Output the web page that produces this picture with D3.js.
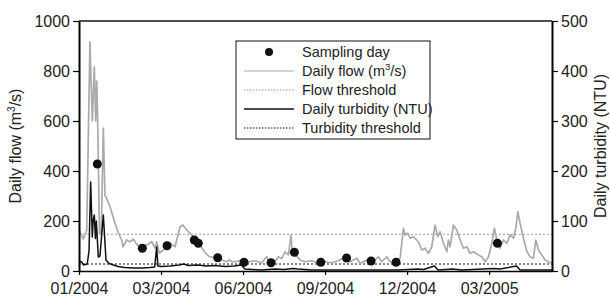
<!DOCTYPE html>
<html>
<head>
<meta charset="utf-8">
<script src="https://cdn.jsdelivr.net/npm/d3@7"></script>
<style>
  body { margin: 0; background: #fff; }
  text { font-family: "Liberation Sans", Arial, Helvetica, sans-serif; fill: #222; }
</style>
</head>
<body>
<div id="chart-area"></div>
<script>
// data: day = days since 01/01/2004
const flowDays = [0, 4.7, 8.5, 12, 14.6, 16.8, 18.3, 19.5, 20.5, 22.5, 24.5, 26.7, 28.5, 29.6, 34, 39.5, 42.7, 46.8, 48.3, 52.3, 56, 59.6, 63.3, 67, 74.3, 79.9, 83.5, 85.3, 88.1, 92.5, 99.9, 105.4, 110.9, 113.9, 118.3, 123.8, 128, 134, 137.6, 143.1, 147, 156.4, 161.9, 165, 168, 171.2, 178.6, 185.8, 193.2, 200.5, 206, 207.8, 215.1, 218.8, 222.5, 226.1, 229.7, 232.7, 234.1, 238.9, 242.6, 248, 255.4, 262.6, 270, 277.4, 284.6, 291.9, 297.4, 304.8, 308.4, 315.8, 323, 328.5, 332.2, 337.7, 341.3, 348.7, 352.3, 356, 357.8, 360.8, 363.3, 366.9, 372.4, 376.2, 379.8, 383.4, 387.1, 390.7, 393.7, 396.2, 399.9, 403.6, 405.3, 407.2, 410.8, 414.5, 418.2, 421.8, 425.5, 429.1, 432.8, 438.3, 442, 445.6, 449.3, 453, 455.8, 458.4, 462, 465.7, 469.4, 473, 476.7, 479.3, 481.5, 484, 487.7, 491.4, 495, 498.6, 501.2, 504.1, 507.8, 511.4, 515.1, 518.8]
const flowValues = [164, 128, 164, 917, 600, 817, 600, 760, 600, 150, 160, 572, 300, 297, 257, 192, 157, 124, 97, 124, 117, 127, 107, 97, 104, 117, 91, 117, 71, 84, 111, 97, 177, 184, 164, 144, 130, 97, 77, 57, 55, 44, 37, 44, 37, 37, 44, 37, 41, 33, 57, 40, 37, 57, 50, 77, 64, 144, 64, 60, 44, 37, 41, 31, 37, 33, 41, 57, 37, 51, 31, 44, 37, 57, 37, 57, 37, 37, 51, 171, 144, 151, 131, 137, 117, 84, 91, 71, 97, 184, 137, 157, 111, 77, 124, 97, 184, 164, 124, 91, 97, 71, 77, 64, 57, 37, 57, 111, 171, 124, 91, 124, 111, 144, 131, 171, 237, 191, 131, 77, 57, 51, 124, 84, 64, 44, 37, 31]

const turbDays = [0, 3, 5, 9, 11, 12.8, 14.6, 15.5, 16.8, 18, 19, 21.2, 23, 26.7, 29.6, 33, 36, 43, 50, 60, 70, 78, 83, 85.3, 86.5, 90, 100, 110, 115, 120, 130, 140, 150, 160, 170, 178, 182, 190, 200, 215, 225, 235, 240, 255, 280, 300, 330, 350, 372, 378, 390, 394, 410, 420, 455, 462, 480, 484, 519]
const turbValues = [20, 18, 12, 14, 40, 178, 68, 100, 112, 65, 100, 28, 30, 112, 22, 15, 13, 9, 7, 6, 6, 7, 8, 48, 10, 9, 10, 12, 14, 11, 12, 10, 11, 9, 10, 12, 4, 3, 2, 4, 3, 5, 4, 2, 2, 2, 2, 2, 4, 3, 10, 2, 4, 2, 5, 4, 10, 2, 2]

const sampleDays = [20.1, 69.5, 96.6, 126.5, 130.9, 152.2, 181.1, 210.7, 236.3, 265.3, 293.6, 320.5, 347.9, 459.1]
const sampleFlow = [428, 91, 101, 124, 111, 53, 35, 33, 75, 35, 52, 40, 35, 111]

const flowThreshold = 147
const turbThreshold = 14

const xTickDays = [0, 90, 180, 270, 360, 450]
const xTickLabels = ["01/2004", "03/2004", "06/2004", "09/2004", "12/2004", "03/2005"]
const flowTicks = [0, 200, 400, 600, 800, 1000]
const turbTicks = [0, 100, 200, 300, 400, 500]

const MARGIN = { LEFT: 79, RIGHT: 58, TOP: 21, BOTTOM: 32 }
const WIDTH = 610 - MARGIN.LEFT - MARGIN.RIGHT
const HEIGHT = 303 - MARGIN.TOP - MARGIN.BOTTOM
const FONT = "16px"
const LEGEND_FONT = "14.5px"

const svg = d3.select("#chart-area").append("svg")
  .attr("width", WIDTH + MARGIN.LEFT + MARGIN.RIGHT)
  .attr("height", HEIGHT + MARGIN.TOP + MARGIN.BOTTOM)

const g = svg.append("g")
  .attr("transform", `translate(${MARGIN.LEFT}, ${MARGIN.TOP})`)

const x = d3.scaleLinear().domain([0, 519]).range([0, WIDTH])
const yFlow = d3.scaleLinear().domain([0, 1000]).range([HEIGHT, 0])
const yTurb = d3.scaleLinear().domain([0, 500]).range([HEIGHT, 0])

// threshold lines
g.append("line")
  .attr("x1", 0).attr("x2", WIDTH)
  .attr("y1", yFlow(flowThreshold)).attr("y2", yFlow(flowThreshold))
  .attr("stroke", "#999").attr("stroke-width", 1).attr("stroke-dasharray", "2,2")

g.append("line")
  .attr("x1", 0).attr("x2", WIDTH)
  .attr("y1", yTurb(turbThreshold)).attr("y2", yTurb(turbThreshold))
  .attr("stroke", "#111").attr("stroke-width", 1).attr("stroke-dasharray", "2,2")

// daily flow
const flowLine = d3.line()
  .x((d, i) => x(flowDays[i]))
  .y(d => yFlow(d))
g.append("path")
  .attr("d", flowLine(flowValues))
  .attr("fill", "none").attr("stroke", "#aaa").attr("stroke-width", 1.7)
  .attr("stroke-linejoin", "round")

// daily turbidity
const turbLine = d3.line()
  .x((d, i) => x(turbDays[i]))
  .y(d => yTurb(d))
g.append("path")
  .attr("d", turbLine(turbValues))
  .attr("fill", "none").attr("stroke", "#111").attr("stroke-width", 1.5)
  .attr("stroke-linejoin", "round")

// sampling days
g.selectAll("circle.sample")
  .data(sampleDays)
  .enter().append("circle")
  .attr("class", "sample")
  .attr("cx", d => x(d))
  .attr("cy", (d, i) => yFlow(sampleFlow[i]))
  .attr("r", 4.5)
  .attr("fill", "#111")

// axes
const xAxisCall = d3.axisBottom(x)
  .tickValues(xTickDays)
  .tickFormat((d, i) => xTickLabels[i])
  .tickSize(4).tickSizeOuter(0).tickPadding(8)
const xAxisGroup = g.append("g")
  .attr("transform", `translate(0, ${HEIGHT})`)
  .call(xAxisCall)

const yAxisCall = d3.axisLeft(yFlow).tickValues(flowTicks).tickFormat(d3.format("d"))
  .tickSize(6).tickSizeOuter(0).tickPadding(3)
const yAxisGroup = g.append("g").call(yAxisCall)

const y2AxisCall = d3.axisRight(yTurb).tickValues(turbTicks).tickFormat(d3.format("d"))
  .tickSize(6).tickSizeOuter(0).tickPadding(3)
const y2AxisGroup = g.append("g")
  .attr("transform", `translate(${WIDTH}, 0)`)
  .call(y2AxisCall)

g.selectAll(".tick text").attr("font-size", FONT).attr("fill", "#222")
xAxisGroup.select(".domain").attr("stroke-width", 1.5)
yAxisGroup.select(".domain").attr("stroke-width", 2)
y2AxisGroup.select(".domain").attr("stroke-width", 2)
g.selectAll(".tick line").attr("stroke-width", 1.2)

// top frame line
g.append("line")
  .attr("x1", 0).attr("x2", WIDTH).attr("y1", 0).attr("y2", 0)
  .attr("stroke", "#111").attr("stroke-width", 1.5)

// Y labels
const yLabel = g.append("text")
  .attr("transform", `translate(${-58}, ${HEIGHT / 2}) rotate(-90)`)
  .attr("text-anchor", "middle")
  .attr("font-size", FONT)
yLabel.append("tspan").text("Daily flow (m")
yLabel.append("tspan").attr("dy", -6).attr("font-size", "10px").text("3")
yLabel.append("tspan").attr("dy", 6).text("/s)")

g.append("text")
  .attr("transform", `translate(${WIDTH + 54}, ${HEIGHT / 2}) rotate(-90)`)
  .attr("text-anchor", "middle")
  .attr("font-size", FONT)
  .text("Daily turbidity (NTU)")

// legend
const legendItems = ["Sampling day", "Daily flow (m3/s)", "Flow threshold", "Daily turbidity (NTU)", "Turbidity threshold"]
const legendX = 236 - MARGIN.LEFT
const legendY = 41 - MARGIN.TOP
const legend = g.append("g").attr("transform", `translate(${legendX}, ${legendY})`)

legend.append("rect")
  .attr("width", 194).attr("height", 98)
  .attr("fill", "#fff").attr("stroke", "#111").attr("stroke-width", 1)

const rowY = i => 11 + i * 19

legend.append("circle").attr("cx", 33).attr("cy", rowY(0)).attr("r", 4).attr("fill", "#111")
legend.append("line").attr("x1", 8).attr("x2", 58).attr("y1", rowY(1)).attr("y2", rowY(1))
  .attr("stroke", "#aaa").attr("stroke-width", 1.2)
legend.append("line").attr("x1", 8).attr("x2", 58).attr("y1", rowY(2)).attr("y2", rowY(2))
  .attr("stroke", "#999").attr("stroke-width", 1).attr("stroke-dasharray", "1.5,1.5")
legend.append("line").attr("x1", 8).attr("x2", 58).attr("y1", rowY(3)).attr("y2", rowY(3))
  .attr("stroke", "#111").attr("stroke-width", 1.5)
legend.append("line").attr("x1", 8).attr("x2", 58).attr("y1", rowY(4)).attr("y2", rowY(4))
  .attr("stroke", "#111").attr("stroke-width", 1).attr("stroke-dasharray", "1.5,1.5")

legendItems.forEach((label, i) => {
  const t = legend.append("text")
    .attr("x", 66).attr("y", rowY(i) + 5)
    .attr("font-size", LEGEND_FONT)
  if (i === 1) {
    t.append("tspan").text("Daily flow (m")
    t.append("tspan").attr("dy", -6).attr("font-size", "9.5px").text("3")
    t.append("tspan").attr("dy", 6).text("/s)")
  } else {
    t.text(label)
  }
})
</script>
</body>
</html>
